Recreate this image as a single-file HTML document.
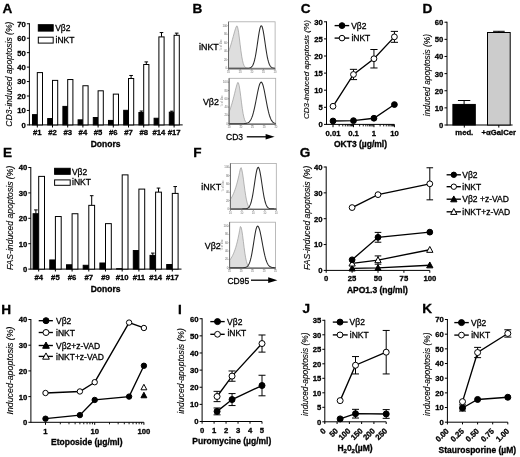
<!DOCTYPE html>
<html><head><meta charset="utf-8"><style>
html,body{margin:0;padding:0;background:#fff;overflow:hidden;}
svg{display:block;will-change:transform;font-family:"Liberation Sans", sans-serif;}
text{stroke:#000;stroke-width:0.3px;paint-order:stroke;}
</style></head><body>
<svg width="520" height="457" viewBox="0 0 520 457">
<rect x="0" y="0" width="520" height="457" fill="#fff"/>
<text x="2.40" y="13.10" font-size="13.6" font-weight="bold">A</text>
<line x1="29.40" y1="23.25" x2="29.40" y2="125.40" stroke="#000" stroke-width="1.0"/>
<line x1="26.90" y1="124.90" x2="29.40" y2="124.90" stroke="#000" stroke-width="1.0"/>
<text x="25.80" y="127.80" font-size="7.7" font-weight="bold" text-anchor="end">0</text>
<line x1="26.90" y1="110.45" x2="29.40" y2="110.45" stroke="#000" stroke-width="1.0"/>
<text x="25.80" y="113.35" font-size="7.7" font-weight="bold" text-anchor="end">10</text>
<line x1="26.90" y1="96.00" x2="29.40" y2="96.00" stroke="#000" stroke-width="1.0"/>
<text x="25.80" y="98.90" font-size="7.7" font-weight="bold" text-anchor="end">20</text>
<line x1="26.90" y1="81.55" x2="29.40" y2="81.55" stroke="#000" stroke-width="1.0"/>
<text x="25.80" y="84.45" font-size="7.7" font-weight="bold" text-anchor="end">30</text>
<line x1="26.90" y1="67.10" x2="29.40" y2="67.10" stroke="#000" stroke-width="1.0"/>
<text x="25.80" y="70.00" font-size="7.7" font-weight="bold" text-anchor="end">40</text>
<line x1="26.90" y1="52.65" x2="29.40" y2="52.65" stroke="#000" stroke-width="1.0"/>
<text x="25.80" y="55.55" font-size="7.7" font-weight="bold" text-anchor="end">50</text>
<line x1="26.90" y1="38.20" x2="29.40" y2="38.20" stroke="#000" stroke-width="1.0"/>
<text x="25.80" y="41.10" font-size="7.7" font-weight="bold" text-anchor="end">60</text>
<line x1="26.90" y1="23.75" x2="29.40" y2="23.75" stroke="#000" stroke-width="1.0"/>
<text x="25.80" y="26.65" font-size="7.7" font-weight="bold" text-anchor="end">70</text>
<line x1="29.40" y1="124.90" x2="182.70" y2="124.90" stroke="#000" stroke-width="1.0"/>
<rect x="32.50" y="114.64" width="4.80" height="10.26" fill="#000" stroke="#000" stroke-width="1.0"/>
<rect x="37.30" y="72.59" width="5.20" height="52.31" fill="#fff" stroke="#000" stroke-width="1.0"/>
<line x1="37.30" y1="124.90" x2="37.30" y2="127.50" stroke="#000" stroke-width="1.0"/>
<text x="37.30" y="134.90" font-size="7.7" font-weight="bold" text-anchor="middle">#1</text>
<rect x="47.70" y="118.54" width="4.80" height="6.36" fill="#000" stroke="#000" stroke-width="1.0"/>
<rect x="52.50" y="80.39" width="5.20" height="44.51" fill="#fff" stroke="#000" stroke-width="1.0"/>
<line x1="52.50" y1="124.90" x2="52.50" y2="127.50" stroke="#000" stroke-width="1.0"/>
<text x="52.50" y="134.90" font-size="7.7" font-weight="bold" text-anchor="middle">#2</text>
<rect x="62.90" y="106.40" width="4.80" height="18.50" fill="#000" stroke="#000" stroke-width="1.0"/>
<rect x="67.70" y="79.53" width="5.20" height="45.37" fill="#fff" stroke="#000" stroke-width="1.0"/>
<line x1="67.70" y1="124.90" x2="67.70" y2="127.50" stroke="#000" stroke-width="1.0"/>
<text x="67.70" y="134.90" font-size="7.7" font-weight="bold" text-anchor="middle">#3</text>
<rect x="78.10" y="119.84" width="4.80" height="5.06" fill="#000" stroke="#000" stroke-width="1.0"/>
<rect x="82.90" y="85.74" width="5.20" height="39.16" fill="#fff" stroke="#000" stroke-width="1.0"/>
<line x1="82.90" y1="124.90" x2="82.90" y2="127.50" stroke="#000" stroke-width="1.0"/>
<text x="82.90" y="134.90" font-size="7.7" font-weight="bold" text-anchor="middle">#4</text>
<rect x="93.30" y="117.53" width="4.80" height="7.37" fill="#000" stroke="#000" stroke-width="1.0"/>
<rect x="98.10" y="90.80" width="5.20" height="34.10" fill="#fff" stroke="#000" stroke-width="1.0"/>
<line x1="98.10" y1="124.90" x2="98.10" y2="127.50" stroke="#000" stroke-width="1.0"/>
<text x="98.10" y="134.90" font-size="7.7" font-weight="bold" text-anchor="middle">#5</text>
<rect x="108.50" y="120.42" width="4.80" height="4.48" fill="#000" stroke="#000" stroke-width="1.0"/>
<rect x="113.30" y="94.12" width="5.20" height="30.78" fill="#fff" stroke="#000" stroke-width="1.0"/>
<line x1="113.30" y1="124.90" x2="113.30" y2="127.50" stroke="#000" stroke-width="1.0"/>
<text x="113.30" y="134.90" font-size="7.7" font-weight="bold" text-anchor="middle">#6</text>
<rect x="123.70" y="110.31" width="4.80" height="14.59" fill="#000" stroke="#000" stroke-width="1.0"/>
<line x1="131.10" y1="75.48" x2="131.10" y2="78.52" stroke="#000" stroke-width="1.0"/>
<line x1="129.30" y1="75.48" x2="132.90" y2="75.48" stroke="#000" stroke-width="1.0"/>
<rect x="128.50" y="78.52" width="5.20" height="46.38" fill="#fff" stroke="#000" stroke-width="1.0"/>
<line x1="128.50" y1="124.90" x2="128.50" y2="127.50" stroke="#000" stroke-width="1.0"/>
<text x="128.50" y="134.90" font-size="7.7" font-weight="bold" text-anchor="middle">#7</text>
<line x1="141.30" y1="111.03" x2="141.30" y2="112.47" stroke="#000" stroke-width="1.0"/>
<line x1="139.70" y1="111.03" x2="142.90" y2="111.03" stroke="#000" stroke-width="1.0"/>
<rect x="138.90" y="112.47" width="4.80" height="12.43" fill="#000" stroke="#000" stroke-width="1.0"/>
<line x1="146.30" y1="61.90" x2="146.30" y2="64.50" stroke="#000" stroke-width="1.0"/>
<line x1="144.50" y1="61.90" x2="148.10" y2="61.90" stroke="#000" stroke-width="1.0"/>
<rect x="143.70" y="64.50" width="5.20" height="60.40" fill="#fff" stroke="#000" stroke-width="1.0"/>
<line x1="143.70" y1="124.90" x2="143.70" y2="127.50" stroke="#000" stroke-width="1.0"/>
<text x="143.70" y="134.90" font-size="7.7" font-weight="bold" text-anchor="middle">#8</text>
<rect x="154.10" y="118.25" width="4.80" height="6.65" fill="#000" stroke="#000" stroke-width="1.0"/>
<line x1="161.50" y1="32.56" x2="161.50" y2="36.90" stroke="#000" stroke-width="1.0"/>
<line x1="159.70" y1="32.56" x2="163.30" y2="32.56" stroke="#000" stroke-width="1.0"/>
<rect x="158.90" y="36.90" width="5.20" height="88.00" fill="#fff" stroke="#000" stroke-width="1.0"/>
<line x1="158.90" y1="124.90" x2="158.90" y2="127.50" stroke="#000" stroke-width="1.0"/>
<text x="158.90" y="134.90" font-size="7.7" font-weight="bold" text-anchor="middle">#14</text>
<line x1="171.70" y1="111.17" x2="171.70" y2="112.18" stroke="#000" stroke-width="1.0"/>
<line x1="170.10" y1="111.17" x2="173.30" y2="111.17" stroke="#000" stroke-width="1.0"/>
<rect x="169.30" y="112.18" width="4.80" height="12.72" fill="#000" stroke="#000" stroke-width="1.0"/>
<line x1="176.70" y1="33.14" x2="176.70" y2="35.31" stroke="#000" stroke-width="1.0"/>
<line x1="174.90" y1="33.14" x2="178.50" y2="33.14" stroke="#000" stroke-width="1.0"/>
<rect x="174.10" y="35.31" width="5.20" height="89.59" fill="#fff" stroke="#000" stroke-width="1.0"/>
<line x1="174.10" y1="124.90" x2="174.10" y2="127.50" stroke="#000" stroke-width="1.0"/>
<text x="174.10" y="134.90" font-size="7.7" font-weight="bold" text-anchor="middle">#17</text>
<text x="105.60" y="147.20" font-size="8.5" font-weight="bold" text-anchor="middle">Donors</text>
<rect x="38.30" y="24.70" width="14.90" height="6.40" fill="#000" stroke="#000" stroke-width="1.0"/>
<rect x="38.30" y="37.20" width="14.90" height="5.90" fill="#fff" stroke="#000" stroke-width="1.0"/>
<text x="55.20" y="31.10" font-size="8.5">V&#946;2</text>
<text x="55.50" y="43.10" font-size="8.5">iNKT</text>
<text x="12.40" y="74.10" font-size="8.6" font-style="italic" text-anchor="middle" transform="rotate(-90 12.40 74.10)" style="stroke-width:0.12px">CD3-induced apoptosis (%)</text>
<text x="192.40" y="13.40" font-size="13.6" font-weight="bold">B</text>
<rect x="228.5" y="21.8" width="46.60" height="47.10" fill="#fff" stroke="#aaa" stroke-width="0.8"/>
<path d="M228.50,68.30 L228.50,51.85 L229.28,49.71 L230.05,47.40 L230.83,44.92 L231.61,42.29 L232.38,39.56 L233.16,36.74 L233.94,33.92 L234.71,31.18 L235.49,28.65 L236.27,26.56 L237.04,25.83 L237.82,27.94 L238.60,32.29 L239.37,38.12 L240.15,44.54 L240.93,50.74 L241.70,56.11 L242.48,60.35 L243.26,63.43 L244.03,65.50 L244.81,66.79 L245.59,67.53 L246.36,67.93 L247.14,68.14 L247.92,68.23 L248.69,68.27 L249.47,68.29 L250.25,68.30 L251.02,68.30 L251.80,68.30 L252.58,68.30 L253.35,68.30 L254.13,68.30 L254.91,68.30 L255.68,68.30 L256.46,68.30 L257.24,68.30 L258.01,68.30 L258.79,68.30 L259.57,68.30 L260.34,68.30 L261.12,68.30 L261.90,68.30 L262.67,68.30 L263.45,68.30 L264.23,68.30 L265.00,68.30 L265.78,68.30 L266.56,68.30 L267.33,68.30 L268.11,68.30 L268.89,68.30 L269.66,68.30 L270.44,68.30 L271.22,68.30 L271.99,68.30 L272.77,68.30 L273.55,68.30 L274.32,68.30 L275.10,68.30 L275.10,68.30 Z" fill="#dedede" stroke="#999" stroke-width="0.7"/>
<path d="M228.50,68.30 L229.02,68.30 L229.54,68.30 L230.05,68.30 L230.57,68.30 L231.09,68.30 L231.61,68.30 L232.12,68.30 L232.64,68.30 L233.16,68.30 L233.68,68.30 L234.20,68.30 L234.71,68.30 L235.23,68.30 L235.75,68.30 L236.27,68.30 L236.78,68.30 L237.30,68.30 L237.82,68.30 L238.34,68.30 L238.86,68.30 L239.37,68.30 L239.89,68.30 L240.41,68.30 L240.93,68.30 L241.44,68.30 L241.96,68.30 L242.48,68.30 L243.00,68.30 L243.52,68.30 L244.03,68.30 L244.55,68.30 L245.07,68.30 L245.59,68.29 L246.10,68.29 L246.62,68.28 L247.14,68.27 L247.66,68.25 L248.18,68.22 L248.69,68.17 L249.21,68.10 L249.73,67.98 L250.25,67.81 L250.76,67.56 L251.28,67.21 L251.80,66.72 L252.32,66.06 L252.84,65.19 L253.35,64.06 L253.87,62.62 L254.39,60.86 L254.91,58.73 L255.42,56.23 L255.94,53.37 L256.46,50.19 L256.98,46.77 L257.50,43.19 L258.01,39.59 L258.53,36.10 L259.05,32.90 L259.57,30.13 L260.08,27.94 L260.60,26.45 L261.12,25.75 L261.64,25.88 L262.16,26.82 L262.67,28.54 L263.19,30.92 L263.71,33.84 L264.23,37.14 L264.74,40.68 L265.26,44.29 L265.78,47.83 L266.30,51.19 L266.82,54.28 L267.33,57.03 L267.85,59.41 L268.37,61.43 L268.89,63.09 L269.40,64.43 L269.92,65.48 L270.44,66.28 L270.96,66.89 L271.48,67.33 L271.99,67.65 L272.51,67.87 L273.03,68.02 L273.55,68.12 L274.06,68.19 L274.58,68.23 L275.10,68.26" fill="none" stroke="#2a2a2a" stroke-width="1.05"/>
<line x1="228.50" y1="21.80" x2="228.50" y2="68.90" stroke="#666" stroke-width="1.0"/>
<line x1="228.50" y1="68.90" x2="275.10" y2="68.90" stroke="#666" stroke-width="1.0"/>
<line x1="228.50" y1="68.90" x2="228.50" y2="70.50" stroke="#777" stroke-width="0.7"/>
<text x="228.50" y="72.90" font-size="2.8" text-anchor="middle" fill="#777" style="stroke:none">10</text>
<line x1="240.15" y1="68.90" x2="240.15" y2="70.50" stroke="#777" stroke-width="0.7"/>
<text x="240.15" y="72.90" font-size="2.8" text-anchor="middle" fill="#777" style="stroke:none">10</text>
<line x1="251.80" y1="68.90" x2="251.80" y2="70.50" stroke="#777" stroke-width="0.7"/>
<text x="251.80" y="72.90" font-size="2.8" text-anchor="middle" fill="#777" style="stroke:none">10</text>
<line x1="263.45" y1="68.90" x2="263.45" y2="70.50" stroke="#777" stroke-width="0.7"/>
<text x="263.45" y="72.90" font-size="2.8" text-anchor="middle" fill="#777" style="stroke:none">10</text>
<line x1="275.10" y1="68.90" x2="275.10" y2="70.50" stroke="#777" stroke-width="0.7"/>
<text x="275.10" y="72.90" font-size="2.8" text-anchor="middle" fill="#777" style="stroke:none">10</text>
<line x1="227.50" y1="68.30" x2="228.50" y2="68.30" stroke="#666" stroke-width="0.8"/>
<text x="227.10" y="69.30" font-size="2.8" text-anchor="end" fill="#666" style="stroke:none">0</text>
<line x1="227.50" y1="59.78" x2="228.50" y2="59.78" stroke="#666" stroke-width="0.8"/>
<text x="227.10" y="60.78" font-size="2.8" text-anchor="end" fill="#666" style="stroke:none">20</text>
<line x1="227.50" y1="51.26" x2="228.50" y2="51.26" stroke="#666" stroke-width="0.8"/>
<text x="227.10" y="52.26" font-size="2.8" text-anchor="end" fill="#666" style="stroke:none">40</text>
<line x1="227.50" y1="42.74" x2="228.50" y2="42.74" stroke="#666" stroke-width="0.8"/>
<text x="227.10" y="43.74" font-size="2.8" text-anchor="end" fill="#666" style="stroke:none">60</text>
<line x1="227.50" y1="34.22" x2="228.50" y2="34.22" stroke="#666" stroke-width="0.8"/>
<text x="227.10" y="35.22" font-size="2.8" text-anchor="end" fill="#666" style="stroke:none">80</text>
<line x1="227.50" y1="25.70" x2="228.50" y2="25.70" stroke="#666" stroke-width="0.8"/>
<text x="227.10" y="26.70" font-size="2.8" text-anchor="end" fill="#666" style="stroke:none">100</text>
<text x="222.10" y="44.85" font-size="2.6" text-anchor="middle" fill="#888" style="stroke:none" transform="rotate(-90 222.10 44.85)">% of Max</text>
<rect x="229.1" y="78.3" width="46.60" height="46.00" fill="#fff" stroke="#aaa" stroke-width="0.8"/>
<path d="M229.10,123.70 L229.10,111.82 L229.88,109.87 L230.65,107.70 L231.43,105.30 L232.21,102.67 L232.98,99.84 L233.76,96.84 L234.54,93.73 L235.31,90.57 L236.09,87.50 L236.87,84.71 L237.64,82.57 L238.42,82.78 L239.20,85.68 L239.97,90.52 L240.75,96.50 L241.53,102.77 L242.30,108.57 L243.08,113.43 L243.86,117.15 L244.63,119.78 L245.41,121.49 L246.19,122.53 L246.96,123.12 L247.74,123.43 L248.52,123.58 L249.29,123.65 L250.07,123.68 L250.85,123.69 L251.62,123.70 L252.40,123.70 L253.18,123.70 L253.95,123.70 L254.73,123.70 L255.51,123.70 L256.28,123.70 L257.06,123.70 L257.84,123.70 L258.61,123.70 L259.39,123.70 L260.17,123.70 L260.94,123.70 L261.72,123.70 L262.50,123.70 L263.27,123.70 L264.05,123.70 L264.83,123.70 L265.60,123.70 L266.38,123.70 L267.16,123.70 L267.93,123.70 L268.71,123.70 L269.49,123.70 L270.26,123.70 L271.04,123.70 L271.82,123.70 L272.59,123.70 L273.37,123.70 L274.15,123.70 L274.92,123.70 L275.70,123.70 L275.70,123.70 Z" fill="#dedede" stroke="#999" stroke-width="0.7"/>
<path d="M229.10,123.70 L229.62,123.70 L230.14,123.70 L230.65,123.70 L231.17,123.70 L231.69,123.70 L232.21,123.70 L232.72,123.70 L233.24,123.70 L233.76,123.70 L234.28,123.70 L234.80,123.70 L235.31,123.70 L235.83,123.70 L236.35,123.70 L236.87,123.70 L237.38,123.70 L237.90,123.70 L238.42,123.70 L238.94,123.70 L239.46,123.70 L239.97,123.70 L240.49,123.70 L241.01,123.69 L241.53,123.69 L242.04,123.69 L242.56,123.68 L243.08,123.67 L243.60,123.65 L244.12,123.63 L244.63,123.59 L245.15,123.54 L245.67,123.48 L246.19,123.39 L246.70,123.27 L247.22,123.10 L247.74,122.89 L248.26,122.61 L248.78,122.24 L249.29,121.79 L249.81,121.21 L250.33,120.51 L250.85,119.65 L251.36,118.61 L251.88,117.39 L252.40,115.97 L252.92,114.33 L253.44,112.48 L253.95,110.42 L254.47,108.16 L254.99,105.73 L255.51,103.16 L256.02,100.49 L256.54,97.78 L257.06,95.09 L257.58,92.48 L258.10,90.03 L258.61,87.81 L259.13,85.88 L259.65,84.31 L260.17,83.15 L260.68,82.44 L261.20,82.20 L261.72,82.46 L262.24,83.24 L262.76,84.51 L263.27,86.21 L263.79,88.29 L264.31,90.67 L264.83,93.29 L265.34,96.04 L265.86,98.87 L266.38,101.69 L266.90,104.43 L267.42,107.04 L267.93,109.48 L268.45,111.72 L268.97,113.73 L269.49,115.51 L270.00,117.05 L270.52,118.38 L271.04,119.49 L271.56,120.41 L272.08,121.16 L272.59,121.77 L273.11,122.25 L273.63,122.62 L274.15,122.91 L274.66,123.13 L275.18,123.29 L275.70,123.41" fill="none" stroke="#2a2a2a" stroke-width="1.05"/>
<line x1="229.10" y1="78.30" x2="229.10" y2="124.30" stroke="#666" stroke-width="1.0"/>
<line x1="229.10" y1="124.30" x2="275.70" y2="124.30" stroke="#666" stroke-width="1.0"/>
<line x1="229.10" y1="124.30" x2="229.10" y2="125.90" stroke="#777" stroke-width="0.7"/>
<text x="229.10" y="128.30" font-size="2.8" text-anchor="middle" fill="#777" style="stroke:none">10</text>
<line x1="240.75" y1="124.30" x2="240.75" y2="125.90" stroke="#777" stroke-width="0.7"/>
<text x="240.75" y="128.30" font-size="2.8" text-anchor="middle" fill="#777" style="stroke:none">10</text>
<line x1="252.40" y1="124.30" x2="252.40" y2="125.90" stroke="#777" stroke-width="0.7"/>
<text x="252.40" y="128.30" font-size="2.8" text-anchor="middle" fill="#777" style="stroke:none">10</text>
<line x1="264.05" y1="124.30" x2="264.05" y2="125.90" stroke="#777" stroke-width="0.7"/>
<text x="264.05" y="128.30" font-size="2.8" text-anchor="middle" fill="#777" style="stroke:none">10</text>
<line x1="275.70" y1="124.30" x2="275.70" y2="125.90" stroke="#777" stroke-width="0.7"/>
<text x="275.70" y="128.30" font-size="2.8" text-anchor="middle" fill="#777" style="stroke:none">10</text>
<line x1="228.10" y1="123.70" x2="229.10" y2="123.70" stroke="#666" stroke-width="0.8"/>
<text x="227.70" y="124.70" font-size="2.8" text-anchor="end" fill="#666" style="stroke:none">0</text>
<line x1="228.10" y1="115.40" x2="229.10" y2="115.40" stroke="#666" stroke-width="0.8"/>
<text x="227.70" y="116.40" font-size="2.8" text-anchor="end" fill="#666" style="stroke:none">20</text>
<line x1="228.10" y1="107.10" x2="229.10" y2="107.10" stroke="#666" stroke-width="0.8"/>
<text x="227.70" y="108.10" font-size="2.8" text-anchor="end" fill="#666" style="stroke:none">40</text>
<line x1="228.10" y1="98.80" x2="229.10" y2="98.80" stroke="#666" stroke-width="0.8"/>
<text x="227.70" y="99.80" font-size="2.8" text-anchor="end" fill="#666" style="stroke:none">60</text>
<line x1="228.10" y1="90.50" x2="229.10" y2="90.50" stroke="#666" stroke-width="0.8"/>
<text x="227.70" y="91.50" font-size="2.8" text-anchor="end" fill="#666" style="stroke:none">80</text>
<line x1="228.10" y1="82.20" x2="229.10" y2="82.20" stroke="#666" stroke-width="0.8"/>
<text x="227.70" y="83.20" font-size="2.8" text-anchor="end" fill="#666" style="stroke:none">100</text>
<text x="222.70" y="100.80" font-size="2.6" text-anchor="middle" fill="#888" style="stroke:none" transform="rotate(-90 222.70 100.80)">% of Max</text>
<text x="218.80" y="50.30" font-size="8.9" text-anchor="end">iNKT</text>
<text x="218.90" y="105.00" font-size="8.9" text-anchor="end">V&#946;2</text>
<text x="226.00" y="140.10" font-size="8.5">CD3</text>
<line x1="246.80" y1="136.80" x2="267.00" y2="136.80" stroke="#000" stroke-width="1.3"/>
<polygon points="265.6,134.1 274.6,136.8 265.6,139.5" fill="#000"/>
<text x="193.30" y="157.10" font-size="13.6" font-weight="bold">F</text>
<rect x="230.4" y="163.4" width="45.90" height="46.10" fill="#fff" stroke="#aaa" stroke-width="0.8"/>
<path d="M230.40,208.90 L230.40,199.46 L231.16,198.24 L231.93,196.89 L232.69,195.38 L233.46,193.69 L234.22,191.81 L234.99,189.73 L235.75,187.43 L236.52,184.89 L237.28,182.11 L238.05,179.08 L238.81,175.81 L239.58,172.34 L240.34,168.79 L241.11,167.62 L241.88,169.86 L242.64,173.90 L243.41,179.17 L244.17,184.97 L244.94,190.64 L245.70,195.70 L246.47,199.86 L247.23,203.03 L248.00,205.29 L248.76,206.79 L249.53,207.74 L250.29,208.29 L251.06,208.60 L251.82,208.76 L252.59,208.84 L253.35,208.87 L254.12,208.89 L254.88,208.90 L255.65,208.90 L256.41,208.90 L257.18,208.90 L257.94,208.90 L258.70,208.90 L259.47,208.90 L260.24,208.90 L261.00,208.90 L261.76,208.90 L262.53,208.90 L263.30,208.90 L264.06,208.90 L264.82,208.90 L265.59,208.90 L266.36,208.90 L267.12,208.90 L267.88,208.90 L268.65,208.90 L269.42,208.90 L270.18,208.90 L270.94,208.90 L271.71,208.90 L272.48,208.90 L273.24,208.90 L274.00,208.90 L274.77,208.90 L275.54,208.90 L276.30,208.90 L276.30,208.90 Z" fill="#dedede" stroke="#999" stroke-width="0.7"/>
<path d="M230.40,208.90 L230.91,208.90 L231.42,208.90 L231.93,208.90 L232.44,208.90 L232.95,208.90 L233.46,208.90 L233.97,208.90 L234.48,208.90 L234.99,208.90 L235.50,208.90 L236.01,208.90 L236.52,208.90 L237.03,208.90 L237.54,208.90 L238.05,208.90 L238.56,208.90 L239.07,208.90 L239.58,208.90 L240.09,208.90 L240.60,208.90 L241.11,208.90 L241.62,208.90 L242.13,208.90 L242.64,208.89 L243.15,208.89 L243.66,208.88 L244.17,208.87 L244.68,208.85 L245.19,208.81 L245.70,208.76 L246.21,208.68 L246.72,208.56 L247.23,208.39 L247.74,208.14 L248.25,207.78 L248.76,207.29 L249.27,206.64 L249.78,205.78 L250.29,204.67 L250.80,203.27 L251.31,201.55 L251.82,199.49 L252.33,197.08 L252.84,194.33 L253.35,191.28 L253.86,187.99 L254.37,184.55 L254.88,181.09 L255.39,177.72 L255.90,174.61 L256.41,171.89 L256.92,169.72 L257.43,168.19 L257.94,167.40 L258.45,167.39 L258.96,168.17 L259.47,169.68 L259.98,171.85 L260.49,174.55 L261.00,177.66 L261.51,181.02 L262.02,184.49 L262.53,187.92 L263.04,191.22 L263.55,194.28 L264.06,197.03 L264.57,199.45 L265.08,201.52 L265.59,203.24 L266.10,204.64 L266.61,205.76 L267.12,206.62 L267.63,207.28 L268.14,207.77 L268.65,208.13 L269.16,208.38 L269.67,208.56 L270.18,208.68 L270.69,208.76 L271.20,208.81 L271.71,208.85 L272.22,208.87 L272.73,208.88 L273.24,208.89 L273.75,208.89 L274.26,208.90 L274.77,208.90 L275.28,208.90 L275.79,208.90 L276.30,208.90" fill="none" stroke="#2a2a2a" stroke-width="1.05"/>
<line x1="230.40" y1="163.40" x2="230.40" y2="209.50" stroke="#666" stroke-width="1.0"/>
<line x1="230.40" y1="209.50" x2="276.30" y2="209.50" stroke="#666" stroke-width="1.0"/>
<line x1="230.40" y1="209.50" x2="230.40" y2="211.10" stroke="#777" stroke-width="0.7"/>
<text x="230.40" y="213.50" font-size="2.8" text-anchor="middle" fill="#777" style="stroke:none">10</text>
<line x1="241.88" y1="209.50" x2="241.88" y2="211.10" stroke="#777" stroke-width="0.7"/>
<text x="241.88" y="213.50" font-size="2.8" text-anchor="middle" fill="#777" style="stroke:none">10</text>
<line x1="253.35" y1="209.50" x2="253.35" y2="211.10" stroke="#777" stroke-width="0.7"/>
<text x="253.35" y="213.50" font-size="2.8" text-anchor="middle" fill="#777" style="stroke:none">10</text>
<line x1="264.82" y1="209.50" x2="264.82" y2="211.10" stroke="#777" stroke-width="0.7"/>
<text x="264.82" y="213.50" font-size="2.8" text-anchor="middle" fill="#777" style="stroke:none">10</text>
<line x1="276.30" y1="209.50" x2="276.30" y2="211.10" stroke="#777" stroke-width="0.7"/>
<text x="276.30" y="213.50" font-size="2.8" text-anchor="middle" fill="#777" style="stroke:none">10</text>
<line x1="229.40" y1="208.90" x2="230.40" y2="208.90" stroke="#666" stroke-width="0.8"/>
<text x="229.00" y="209.90" font-size="2.8" text-anchor="end" fill="#666" style="stroke:none">0</text>
<line x1="229.40" y1="200.58" x2="230.40" y2="200.58" stroke="#666" stroke-width="0.8"/>
<text x="229.00" y="201.58" font-size="2.8" text-anchor="end" fill="#666" style="stroke:none">20</text>
<line x1="229.40" y1="192.26" x2="230.40" y2="192.26" stroke="#666" stroke-width="0.8"/>
<text x="229.00" y="193.26" font-size="2.8" text-anchor="end" fill="#666" style="stroke:none">40</text>
<line x1="229.40" y1="183.94" x2="230.40" y2="183.94" stroke="#666" stroke-width="0.8"/>
<text x="229.00" y="184.94" font-size="2.8" text-anchor="end" fill="#666" style="stroke:none">60</text>
<line x1="229.40" y1="175.62" x2="230.40" y2="175.62" stroke="#666" stroke-width="0.8"/>
<text x="229.00" y="176.62" font-size="2.8" text-anchor="end" fill="#666" style="stroke:none">80</text>
<line x1="229.40" y1="167.30" x2="230.40" y2="167.30" stroke="#666" stroke-width="0.8"/>
<text x="229.00" y="168.30" font-size="2.8" text-anchor="end" fill="#666" style="stroke:none">100</text>
<text x="224.00" y="185.95" font-size="2.6" text-anchor="middle" fill="#888" style="stroke:none" transform="rotate(-90 224.00 185.95)">% of Max</text>
<rect x="229.6" y="222.2" width="45.90" height="46.10" fill="#fff" stroke="#aaa" stroke-width="0.8"/>
<path d="M229.60,267.70 L229.60,260.34 L230.36,259.33 L231.13,258.19 L231.89,256.89 L232.66,255.43 L233.42,253.78 L234.19,251.91 L234.95,249.81 L235.72,247.45 L236.48,244.80 L237.25,241.83 L238.01,238.52 L238.78,234.86 L239.54,230.83 L240.31,226.57 L241.07,227.07 L241.84,230.35 L242.60,235.40 L243.37,241.41 L244.13,247.57 L244.90,253.19 L245.66,257.87 L246.43,261.43 L247.19,263.93 L247.96,265.57 L248.72,266.57 L249.49,267.14 L250.25,267.43 L251.02,267.58 L251.78,267.65 L252.55,267.68 L253.31,267.69 L254.08,267.70 L254.84,267.70 L255.61,267.70 L256.38,267.70 L257.14,267.70 L257.90,267.70 L258.67,267.70 L259.44,267.70 L260.20,267.70 L260.96,267.70 L261.73,267.70 L262.50,267.70 L263.26,267.70 L264.02,267.70 L264.79,267.70 L265.56,267.70 L266.32,267.70 L267.08,267.70 L267.85,267.70 L268.62,267.70 L269.38,267.70 L270.14,267.70 L270.91,267.70 L271.68,267.70 L272.44,267.70 L273.20,267.70 L273.97,267.70 L274.74,267.70 L275.50,267.70 L275.50,267.70 Z" fill="#dedede" stroke="#999" stroke-width="0.7"/>
<path d="M229.60,267.70 L230.11,267.70 L230.62,267.70 L231.13,267.70 L231.64,267.70 L232.15,267.70 L232.66,267.70 L233.17,267.70 L233.68,267.70 L234.19,267.70 L234.70,267.70 L235.21,267.70 L235.72,267.70 L236.23,267.70 L236.74,267.70 L237.25,267.70 L237.76,267.70 L238.27,267.70 L238.78,267.70 L239.29,267.70 L239.80,267.70 L240.31,267.70 L240.82,267.70 L241.33,267.69 L241.84,267.69 L242.35,267.68 L242.86,267.67 L243.37,267.65 L243.88,267.61 L244.39,267.57 L244.90,267.49 L245.41,267.39 L245.92,267.23 L246.43,267.01 L246.94,266.71 L247.45,266.29 L247.96,265.74 L248.47,265.01 L248.98,264.08 L249.49,262.91 L250.00,261.47 L250.51,259.73 L251.02,257.68 L251.53,255.31 L252.04,252.64 L252.55,249.71 L253.06,246.57 L253.57,243.31 L254.08,240.02 L254.59,236.82 L255.10,233.83 L255.61,231.18 L256.12,228.99 L256.63,227.37 L257.14,226.39 L257.65,226.10 L258.16,226.41 L258.67,227.21 L259.18,228.48 L259.69,230.18 L260.20,232.24 L260.71,234.60 L261.22,237.18 L261.73,239.90 L262.24,242.69 L262.75,245.47 L263.26,248.19 L263.77,250.78 L264.28,253.21 L264.79,255.44 L265.30,257.45 L265.81,259.24 L266.32,260.80 L266.83,262.14 L267.34,263.28 L267.85,264.23 L268.36,265.00 L268.87,265.63 L269.38,266.13 L269.89,266.53 L270.40,266.83 L270.91,267.07 L271.42,267.24 L271.93,267.38 L272.44,267.47 L272.95,267.54 L273.46,267.59 L273.97,267.63 L274.48,267.65 L274.99,267.67 L275.50,267.68" fill="none" stroke="#2a2a2a" stroke-width="1.05"/>
<line x1="229.60" y1="222.20" x2="229.60" y2="268.30" stroke="#666" stroke-width="1.0"/>
<line x1="229.60" y1="268.30" x2="275.50" y2="268.30" stroke="#666" stroke-width="1.0"/>
<line x1="229.60" y1="268.30" x2="229.60" y2="269.90" stroke="#777" stroke-width="0.7"/>
<text x="229.60" y="272.30" font-size="2.8" text-anchor="middle" fill="#777" style="stroke:none">10</text>
<line x1="241.07" y1="268.30" x2="241.07" y2="269.90" stroke="#777" stroke-width="0.7"/>
<text x="241.07" y="272.30" font-size="2.8" text-anchor="middle" fill="#777" style="stroke:none">10</text>
<line x1="252.55" y1="268.30" x2="252.55" y2="269.90" stroke="#777" stroke-width="0.7"/>
<text x="252.55" y="272.30" font-size="2.8" text-anchor="middle" fill="#777" style="stroke:none">10</text>
<line x1="264.02" y1="268.30" x2="264.02" y2="269.90" stroke="#777" stroke-width="0.7"/>
<text x="264.02" y="272.30" font-size="2.8" text-anchor="middle" fill="#777" style="stroke:none">10</text>
<line x1="275.50" y1="268.30" x2="275.50" y2="269.90" stroke="#777" stroke-width="0.7"/>
<text x="275.50" y="272.30" font-size="2.8" text-anchor="middle" fill="#777" style="stroke:none">10</text>
<line x1="228.60" y1="267.70" x2="229.60" y2="267.70" stroke="#666" stroke-width="0.8"/>
<text x="228.20" y="268.70" font-size="2.8" text-anchor="end" fill="#666" style="stroke:none">0</text>
<line x1="228.60" y1="259.38" x2="229.60" y2="259.38" stroke="#666" stroke-width="0.8"/>
<text x="228.20" y="260.38" font-size="2.8" text-anchor="end" fill="#666" style="stroke:none">20</text>
<line x1="228.60" y1="251.06" x2="229.60" y2="251.06" stroke="#666" stroke-width="0.8"/>
<text x="228.20" y="252.06" font-size="2.8" text-anchor="end" fill="#666" style="stroke:none">40</text>
<line x1="228.60" y1="242.74" x2="229.60" y2="242.74" stroke="#666" stroke-width="0.8"/>
<text x="228.20" y="243.74" font-size="2.8" text-anchor="end" fill="#666" style="stroke:none">60</text>
<line x1="228.60" y1="234.42" x2="229.60" y2="234.42" stroke="#666" stroke-width="0.8"/>
<text x="228.20" y="235.42" font-size="2.8" text-anchor="end" fill="#666" style="stroke:none">80</text>
<line x1="228.60" y1="226.10" x2="229.60" y2="226.10" stroke="#666" stroke-width="0.8"/>
<text x="228.20" y="227.10" font-size="2.8" text-anchor="end" fill="#666" style="stroke:none">100</text>
<text x="223.20" y="244.75" font-size="2.6" text-anchor="middle" fill="#888" style="stroke:none" transform="rotate(-90 223.20 244.75)">% of Max</text>
<text x="221.10" y="189.80" font-size="8.9" text-anchor="end">iNKT</text>
<text x="220.80" y="249.30" font-size="8.9" text-anchor="end">V&#946;2</text>
<text x="227.40" y="283.60" font-size="8.5">CD95</text>
<line x1="251.00" y1="280.20" x2="269.50" y2="280.20" stroke="#000" stroke-width="1.3"/>
<polygon points="268.2,277.3 277.4,280.2 268.2,283.1" fill="#000"/>
<text x="300.80" y="13.20" font-size="13.6" font-weight="bold">C</text>
<line x1="326.50" y1="21.30" x2="326.50" y2="124.90" stroke="#000" stroke-width="1.0"/>
<line x1="324.00" y1="124.40" x2="326.50" y2="124.40" stroke="#000" stroke-width="1.0"/>
<text x="322.90" y="127.30" font-size="7.7" font-weight="bold" text-anchor="end">0</text>
<line x1="324.00" y1="107.30" x2="326.50" y2="107.30" stroke="#000" stroke-width="1.0"/>
<text x="322.90" y="110.20" font-size="7.7" font-weight="bold" text-anchor="end">5</text>
<line x1="324.00" y1="90.20" x2="326.50" y2="90.20" stroke="#000" stroke-width="1.0"/>
<text x="322.90" y="93.10" font-size="7.7" font-weight="bold" text-anchor="end">10</text>
<line x1="324.00" y1="73.10" x2="326.50" y2="73.10" stroke="#000" stroke-width="1.0"/>
<text x="322.90" y="76.00" font-size="7.7" font-weight="bold" text-anchor="end">15</text>
<line x1="324.00" y1="56.00" x2="326.50" y2="56.00" stroke="#000" stroke-width="1.0"/>
<text x="322.90" y="58.90" font-size="7.7" font-weight="bold" text-anchor="end">20</text>
<line x1="324.00" y1="38.90" x2="326.50" y2="38.90" stroke="#000" stroke-width="1.0"/>
<text x="322.90" y="41.80" font-size="7.7" font-weight="bold" text-anchor="end">25</text>
<line x1="324.00" y1="21.80" x2="326.50" y2="21.80" stroke="#000" stroke-width="1.0"/>
<text x="322.90" y="24.70" font-size="7.7" font-weight="bold" text-anchor="end">30</text>
<line x1="326.50" y1="124.40" x2="394.41" y2="124.40" stroke="#000" stroke-width="1.0"/>
<line x1="339.16" y1="124.40" x2="339.16" y2="126.40" stroke="#000" stroke-width="0.9"/>
<line x1="342.77" y1="124.40" x2="342.77" y2="126.40" stroke="#000" stroke-width="0.9"/>
<line x1="345.32" y1="124.40" x2="345.32" y2="126.40" stroke="#000" stroke-width="0.9"/>
<line x1="347.31" y1="124.40" x2="347.31" y2="126.40" stroke="#000" stroke-width="0.9"/>
<line x1="348.93" y1="124.40" x2="348.93" y2="126.40" stroke="#000" stroke-width="0.9"/>
<line x1="350.30" y1="124.40" x2="350.30" y2="126.40" stroke="#000" stroke-width="0.9"/>
<line x1="351.49" y1="124.40" x2="351.49" y2="126.40" stroke="#000" stroke-width="0.9"/>
<line x1="352.53" y1="124.40" x2="352.53" y2="126.40" stroke="#000" stroke-width="0.9"/>
<line x1="359.63" y1="124.40" x2="359.63" y2="126.40" stroke="#000" stroke-width="0.9"/>
<line x1="363.24" y1="124.40" x2="363.24" y2="126.40" stroke="#000" stroke-width="0.9"/>
<line x1="365.79" y1="124.40" x2="365.79" y2="126.40" stroke="#000" stroke-width="0.9"/>
<line x1="367.78" y1="124.40" x2="367.78" y2="126.40" stroke="#000" stroke-width="0.9"/>
<line x1="369.40" y1="124.40" x2="369.40" y2="126.40" stroke="#000" stroke-width="0.9"/>
<line x1="370.77" y1="124.40" x2="370.77" y2="126.40" stroke="#000" stroke-width="0.9"/>
<line x1="371.96" y1="124.40" x2="371.96" y2="126.40" stroke="#000" stroke-width="0.9"/>
<line x1="373.00" y1="124.40" x2="373.00" y2="126.40" stroke="#000" stroke-width="0.9"/>
<line x1="380.10" y1="124.40" x2="380.10" y2="126.40" stroke="#000" stroke-width="0.9"/>
<line x1="383.71" y1="124.40" x2="383.71" y2="126.40" stroke="#000" stroke-width="0.9"/>
<line x1="386.26" y1="124.40" x2="386.26" y2="126.40" stroke="#000" stroke-width="0.9"/>
<line x1="388.25" y1="124.40" x2="388.25" y2="126.40" stroke="#000" stroke-width="0.9"/>
<line x1="389.87" y1="124.40" x2="389.87" y2="126.40" stroke="#000" stroke-width="0.9"/>
<line x1="391.24" y1="124.40" x2="391.24" y2="126.40" stroke="#000" stroke-width="0.9"/>
<line x1="392.43" y1="124.40" x2="392.43" y2="126.40" stroke="#000" stroke-width="0.9"/>
<line x1="393.47" y1="124.40" x2="393.47" y2="126.40" stroke="#000" stroke-width="0.9"/>
<line x1="333.00" y1="124.40" x2="333.00" y2="127.20" stroke="#000" stroke-width="1.0"/>
<text x="333.00" y="135.60" font-size="7.7" font-weight="bold" text-anchor="middle">0.01</text>
<line x1="353.47" y1="124.40" x2="353.47" y2="127.20" stroke="#000" stroke-width="1.0"/>
<text x="353.47" y="135.60" font-size="7.7" font-weight="bold" text-anchor="middle">0.1</text>
<line x1="373.94" y1="124.40" x2="373.94" y2="127.20" stroke="#000" stroke-width="1.0"/>
<text x="373.94" y="135.60" font-size="7.7" font-weight="bold" text-anchor="middle">1</text>
<line x1="394.41" y1="124.40" x2="394.41" y2="127.20" stroke="#000" stroke-width="1.0"/>
<text x="394.41" y="135.60" font-size="7.7" font-weight="bold" text-anchor="middle">10</text>
<text x="360.50" y="147.00" font-size="8.5" font-weight="bold" text-anchor="middle">OKT3 (&#181;g/ml)</text>
<text x="308.70" y="69.60" font-size="8.1" font-style="italic" text-anchor="middle" transform="rotate(-90 308.70 69.60)" style="stroke-width:0.12px">CD3-induced apoptosis (%)</text>
<polyline points="333.00,120.98 353.47,120.64 373.94,118.24 394.41,104.56" fill="none" stroke="#000" stroke-width="1.35"/>
<polyline points="333.00,106.27 353.47,74.47 373.94,58.74 394.41,36.85" fill="none" stroke="#000" stroke-width="1.35"/>
<line x1="353.47" y1="69.34" x2="353.47" y2="79.60" stroke="#000" stroke-width="1.0"/>
<line x1="349.87" y1="69.34" x2="357.07" y2="69.34" stroke="#000" stroke-width="1.0"/>
<line x1="349.87" y1="79.60" x2="357.07" y2="79.60" stroke="#000" stroke-width="1.0"/>
<line x1="373.94" y1="49.50" x2="373.94" y2="67.97" stroke="#000" stroke-width="1.0"/>
<line x1="370.34" y1="49.50" x2="377.54" y2="49.50" stroke="#000" stroke-width="1.0"/>
<line x1="370.34" y1="67.97" x2="377.54" y2="67.97" stroke="#000" stroke-width="1.0"/>
<line x1="394.41" y1="31.38" x2="394.41" y2="42.32" stroke="#000" stroke-width="1.0"/>
<line x1="390.81" y1="31.38" x2="398.01" y2="31.38" stroke="#000" stroke-width="1.0"/>
<line x1="390.81" y1="42.32" x2="398.01" y2="42.32" stroke="#000" stroke-width="1.0"/>
<circle cx="333.00" cy="120.98" r="2.9" fill="#000" stroke="#000" stroke-width="1.0"/>
<circle cx="353.47" cy="120.64" r="2.9" fill="#000" stroke="#000" stroke-width="1.0"/>
<circle cx="373.94" cy="118.24" r="2.9" fill="#000" stroke="#000" stroke-width="1.0"/>
<circle cx="394.41" cy="104.56" r="2.9" fill="#000" stroke="#000" stroke-width="1.0"/>
<circle cx="333.00" cy="106.27" r="2.9" fill="#fff" stroke="#000" stroke-width="1.0"/>
<circle cx="353.47" cy="74.47" r="2.9" fill="#fff" stroke="#000" stroke-width="1.0"/>
<circle cx="373.94" cy="58.74" r="2.9" fill="#fff" stroke="#000" stroke-width="1.0"/>
<circle cx="394.41" cy="36.85" r="2.9" fill="#fff" stroke="#000" stroke-width="1.0"/>
<line x1="334.60" y1="25.60" x2="349.20" y2="25.60" stroke="#000" stroke-width="1.35"/>
<circle cx="342.00" cy="25.60" r="2.9" fill="#000" stroke="#000" stroke-width="1.0"/>
<line x1="334.60" y1="38.10" x2="349.20" y2="38.10" stroke="#000" stroke-width="1.35"/>
<circle cx="342.00" cy="38.10" r="2.8" fill="#fff" stroke="#000" stroke-width="1.0"/>
<text x="351.20" y="28.80" font-size="8.5">V&#946;2</text>
<text x="351.40" y="41.30" font-size="8.5">iNKT</text>
<text x="422.50" y="13.40" font-size="13.6" font-weight="bold">D</text>
<line x1="447.00" y1="21.72" x2="447.00" y2="125.50" stroke="#000" stroke-width="1.0"/>
<line x1="444.50" y1="125.00" x2="447.00" y2="125.00" stroke="#000" stroke-width="1.0"/>
<text x="443.40" y="127.90" font-size="7.7" font-weight="bold" text-anchor="end">0</text>
<line x1="444.50" y1="107.87" x2="447.00" y2="107.87" stroke="#000" stroke-width="1.0"/>
<text x="443.40" y="110.77" font-size="7.7" font-weight="bold" text-anchor="end">10</text>
<line x1="444.50" y1="90.74" x2="447.00" y2="90.74" stroke="#000" stroke-width="1.0"/>
<text x="443.40" y="93.64" font-size="7.7" font-weight="bold" text-anchor="end">20</text>
<line x1="444.50" y1="73.61" x2="447.00" y2="73.61" stroke="#000" stroke-width="1.0"/>
<text x="443.40" y="76.51" font-size="7.7" font-weight="bold" text-anchor="end">30</text>
<line x1="444.50" y1="56.48" x2="447.00" y2="56.48" stroke="#000" stroke-width="1.0"/>
<text x="443.40" y="59.38" font-size="7.7" font-weight="bold" text-anchor="end">40</text>
<line x1="444.50" y1="39.35" x2="447.00" y2="39.35" stroke="#000" stroke-width="1.0"/>
<text x="443.40" y="42.25" font-size="7.7" font-weight="bold" text-anchor="end">50</text>
<line x1="444.50" y1="22.22" x2="447.00" y2="22.22" stroke="#000" stroke-width="1.0"/>
<text x="443.40" y="25.12" font-size="7.7" font-weight="bold" text-anchor="end">60</text>
<line x1="447.00" y1="125.00" x2="512.60" y2="125.00" stroke="#000" stroke-width="1.0"/>
<line x1="464.30" y1="125.00" x2="464.30" y2="127.60" stroke="#000" stroke-width="1.0"/>
<line x1="498.80" y1="125.00" x2="498.80" y2="127.60" stroke="#000" stroke-width="1.0"/>
<line x1="464.10" y1="100.50" x2="464.10" y2="104.44" stroke="#000" stroke-width="1.0"/>
<line x1="457.90" y1="100.50" x2="470.30" y2="100.50" stroke="#000" stroke-width="1.0"/>
<rect x="452.90" y="104.44" width="22.40" height="20.56" fill="#000" stroke="#000" stroke-width="1.0"/>
<line x1="498.90" y1="31.30" x2="498.90" y2="32.50" stroke="#000" stroke-width="1.0"/>
<line x1="493.10" y1="31.30" x2="504.70" y2="31.30" stroke="#000" stroke-width="1.0"/>
<rect x="487.50" y="32.50" width="22.70" height="92.50" fill="#ccc" stroke="#000" stroke-width="1.0"/>
<text x="464.30" y="135.10" font-size="7.7" font-weight="bold" text-anchor="middle">med.</text>
<text x="498.80" y="135.10" font-size="7.7" font-weight="bold" text-anchor="middle">+&#945;GalCer</text>
<text x="429.80" y="75.10" font-size="8.3" font-style="italic" text-anchor="middle" transform="rotate(-90 429.80 75.10)" style="stroke-width:0.12px">induced apoptosis (%)</text>
<text x="2.90" y="157.20" font-size="13.6" font-weight="bold">E</text>
<line x1="30.80" y1="167.00" x2="30.80" y2="269.60" stroke="#000" stroke-width="1.0"/>
<line x1="28.30" y1="269.10" x2="30.80" y2="269.10" stroke="#000" stroke-width="1.0"/>
<text x="27.20" y="272.00" font-size="7.7" font-weight="bold" text-anchor="end">0</text>
<line x1="28.30" y1="243.70" x2="30.80" y2="243.70" stroke="#000" stroke-width="1.0"/>
<text x="27.20" y="246.60" font-size="7.7" font-weight="bold" text-anchor="end">10</text>
<line x1="28.30" y1="218.30" x2="30.80" y2="218.30" stroke="#000" stroke-width="1.0"/>
<text x="27.20" y="221.20" font-size="7.7" font-weight="bold" text-anchor="end">20</text>
<line x1="28.30" y1="192.90" x2="30.80" y2="192.90" stroke="#000" stroke-width="1.0"/>
<text x="27.20" y="195.80" font-size="7.7" font-weight="bold" text-anchor="end">30</text>
<line x1="28.30" y1="167.50" x2="30.80" y2="167.50" stroke="#000" stroke-width="1.0"/>
<text x="27.20" y="170.40" font-size="7.7" font-weight="bold" text-anchor="end">40</text>
<line x1="30.80" y1="269.10" x2="181.50" y2="269.10" stroke="#000" stroke-width="1.0"/>
<line x1="35.90" y1="209.92" x2="35.90" y2="213.73" stroke="#000" stroke-width="1.0"/>
<line x1="34.10" y1="209.92" x2="37.70" y2="209.92" stroke="#000" stroke-width="1.0"/>
<rect x="33.10" y="213.73" width="5.60" height="55.37" fill="#000" stroke="#000" stroke-width="1.0"/>
<rect x="38.70" y="176.39" width="5.80" height="92.71" fill="#fff" stroke="#000" stroke-width="1.0"/>
<line x1="38.70" y1="269.10" x2="38.70" y2="271.50" stroke="#000" stroke-width="1.0"/>
<text x="38.70" y="279.80" font-size="7.7" font-weight="bold" text-anchor="middle">#4</text>
<rect x="49.80" y="259.96" width="5.60" height="9.14" fill="#000" stroke="#000" stroke-width="1.0"/>
<rect x="55.40" y="216.52" width="5.80" height="52.58" fill="#fff" stroke="#000" stroke-width="1.0"/>
<line x1="55.40" y1="269.10" x2="55.40" y2="271.50" stroke="#000" stroke-width="1.0"/>
<text x="55.40" y="279.80" font-size="7.7" font-weight="bold" text-anchor="middle">#5</text>
<rect x="66.50" y="264.78" width="5.60" height="4.32" fill="#000" stroke="#000" stroke-width="1.0"/>
<rect x="72.10" y="213.73" width="5.80" height="55.37" fill="#fff" stroke="#000" stroke-width="1.0"/>
<line x1="72.10" y1="269.10" x2="72.10" y2="271.50" stroke="#000" stroke-width="1.0"/>
<text x="72.10" y="279.80" font-size="7.7" font-weight="bold" text-anchor="middle">#6</text>
<rect x="83.20" y="265.29" width="5.60" height="3.81" fill="#000" stroke="#000" stroke-width="1.0"/>
<line x1="91.70" y1="195.69" x2="91.70" y2="205.35" stroke="#000" stroke-width="1.0"/>
<line x1="89.90" y1="195.69" x2="93.50" y2="195.69" stroke="#000" stroke-width="1.0"/>
<rect x="88.80" y="205.35" width="5.80" height="63.75" fill="#fff" stroke="#000" stroke-width="1.0"/>
<line x1="88.80" y1="269.10" x2="88.80" y2="271.50" stroke="#000" stroke-width="1.0"/>
<text x="88.80" y="279.80" font-size="7.7" font-weight="bold" text-anchor="middle">#7</text>
<rect x="99.90" y="263.00" width="5.60" height="6.10" fill="#000" stroke="#000" stroke-width="1.0"/>
<rect x="105.50" y="223.63" width="5.80" height="45.47" fill="#fff" stroke="#000" stroke-width="1.0"/>
<line x1="105.50" y1="269.10" x2="105.50" y2="271.50" stroke="#000" stroke-width="1.0"/>
<text x="105.50" y="279.80" font-size="7.7" font-weight="bold" text-anchor="middle">#9</text>
<rect x="116.60" y="268.72" width="5.60" height="0.38" fill="#000" stroke="#000" stroke-width="1.0"/>
<rect x="122.20" y="174.87" width="5.80" height="94.23" fill="#fff" stroke="#000" stroke-width="1.0"/>
<line x1="122.20" y1="269.10" x2="122.20" y2="271.50" stroke="#000" stroke-width="1.0"/>
<text x="122.20" y="279.80" font-size="7.7" font-weight="bold" text-anchor="middle">#10</text>
<rect x="133.30" y="250.56" width="5.60" height="18.54" fill="#000" stroke="#000" stroke-width="1.0"/>
<rect x="138.90" y="189.09" width="5.80" height="80.01" fill="#fff" stroke="#000" stroke-width="1.0"/>
<line x1="138.90" y1="269.10" x2="138.90" y2="271.50" stroke="#000" stroke-width="1.0"/>
<text x="138.90" y="279.80" font-size="7.7" font-weight="bold" text-anchor="middle">#11</text>
<line x1="152.80" y1="253.10" x2="152.80" y2="255.38" stroke="#000" stroke-width="1.0"/>
<line x1="151.00" y1="253.10" x2="154.60" y2="253.10" stroke="#000" stroke-width="1.0"/>
<rect x="150.00" y="255.38" width="5.60" height="13.72" fill="#000" stroke="#000" stroke-width="1.0"/>
<line x1="158.50" y1="188.07" x2="158.50" y2="192.14" stroke="#000" stroke-width="1.0"/>
<line x1="156.70" y1="188.07" x2="160.30" y2="188.07" stroke="#000" stroke-width="1.0"/>
<rect x="155.60" y="192.14" width="5.80" height="76.96" fill="#fff" stroke="#000" stroke-width="1.0"/>
<line x1="155.60" y1="269.10" x2="155.60" y2="271.50" stroke="#000" stroke-width="1.0"/>
<text x="155.60" y="279.80" font-size="7.7" font-weight="bold" text-anchor="middle">#14</text>
<rect x="166.70" y="264.53" width="5.60" height="4.57" fill="#000" stroke="#000" stroke-width="1.0"/>
<line x1="175.20" y1="186.55" x2="175.20" y2="193.41" stroke="#000" stroke-width="1.0"/>
<line x1="173.40" y1="186.55" x2="177.00" y2="186.55" stroke="#000" stroke-width="1.0"/>
<rect x="172.30" y="193.41" width="5.80" height="75.69" fill="#fff" stroke="#000" stroke-width="1.0"/>
<line x1="172.30" y1="269.10" x2="172.30" y2="271.50" stroke="#000" stroke-width="1.0"/>
<text x="172.30" y="279.80" font-size="7.7" font-weight="bold" text-anchor="middle">#17</text>
<text x="105.60" y="292.20" font-size="8.5" font-weight="bold" text-anchor="middle">Donors</text>
<rect x="54.60" y="168.30" width="15.60" height="6.00" fill="#000" stroke="#000" stroke-width="1.0"/>
<rect x="54.60" y="179.90" width="15.60" height="5.40" fill="#fff" stroke="#000" stroke-width="1.0"/>
<text x="71.90" y="174.60" font-size="8.5">V&#946;2</text>
<text x="72.00" y="185.40" font-size="8.5">iNKT</text>
<text x="13.30" y="217.90" font-size="8.65" font-style="italic" text-anchor="middle" transform="rotate(-90 13.30 217.90)" style="stroke-width:0.12px">FAS-induced apoptosis (%)</text>
<text x="299.70" y="156.50" font-size="13.6" font-weight="bold">G</text>
<line x1="326.20" y1="166.50" x2="326.20" y2="270.90" stroke="#000" stroke-width="1.0"/>
<line x1="323.70" y1="270.40" x2="326.20" y2="270.40" stroke="#000" stroke-width="1.0"/>
<text x="322.60" y="273.30" font-size="7.7" font-weight="bold" text-anchor="end">0</text>
<line x1="323.70" y1="244.55" x2="326.20" y2="244.55" stroke="#000" stroke-width="1.0"/>
<text x="322.60" y="247.45" font-size="7.7" font-weight="bold" text-anchor="end">10</text>
<line x1="323.70" y1="218.70" x2="326.20" y2="218.70" stroke="#000" stroke-width="1.0"/>
<text x="322.60" y="221.60" font-size="7.7" font-weight="bold" text-anchor="end">20</text>
<line x1="323.70" y1="192.85" x2="326.20" y2="192.85" stroke="#000" stroke-width="1.0"/>
<text x="322.60" y="195.75" font-size="7.7" font-weight="bold" text-anchor="end">30</text>
<line x1="323.70" y1="167.00" x2="326.20" y2="167.00" stroke="#000" stroke-width="1.0"/>
<text x="322.60" y="169.90" font-size="7.7" font-weight="bold" text-anchor="end">40</text>
<line x1="326.20" y1="270.40" x2="429.80" y2="270.40" stroke="#000" stroke-width="1.0"/>
<line x1="326.20" y1="270.40" x2="326.20" y2="272.80" stroke="#000" stroke-width="1.0"/>
<text x="326.20" y="281.40" font-size="7.7" font-weight="bold" text-anchor="middle">0</text>
<line x1="352.10" y1="270.40" x2="352.10" y2="272.80" stroke="#000" stroke-width="1.0"/>
<text x="352.10" y="281.40" font-size="7.7" font-weight="bold" text-anchor="middle">25</text>
<line x1="378.00" y1="270.40" x2="378.00" y2="272.80" stroke="#000" stroke-width="1.0"/>
<text x="378.00" y="281.40" font-size="7.7" font-weight="bold" text-anchor="middle">50</text>
<line x1="403.90" y1="270.40" x2="403.90" y2="272.80" stroke="#000" stroke-width="1.0"/>
<text x="403.90" y="281.40" font-size="7.7" font-weight="bold" text-anchor="middle">75</text>
<line x1="429.80" y1="270.40" x2="429.80" y2="272.80" stroke="#000" stroke-width="1.0"/>
<text x="429.80" y="281.40" font-size="7.7" font-weight="bold" text-anchor="middle">100</text>
<text x="377.40" y="293.40" font-size="8.5" font-weight="bold" text-anchor="middle">APO1.3 (ng/ml)</text>
<text x="309.80" y="217.80" font-size="8.65" font-style="italic" text-anchor="middle" transform="rotate(-90 309.80 217.80)" style="stroke-width:0.12px">FAS-induced apoptosis (%)</text>
<polyline points="352.10,207.58 378.00,194.66 429.80,183.80" fill="none" stroke="#000" stroke-width="1.35"/>
<line x1="429.80" y1="167.78" x2="429.80" y2="199.83" stroke="#000" stroke-width="1.0"/>
<line x1="426.50" y1="167.78" x2="433.10" y2="167.78" stroke="#000" stroke-width="1.0"/>
<line x1="426.50" y1="199.83" x2="433.10" y2="199.83" stroke="#000" stroke-width="1.0"/>
<polyline points="352.10,259.80 378.00,237.31 429.80,232.14" fill="none" stroke="#000" stroke-width="1.35"/>
<line x1="378.00" y1="232.40" x2="378.00" y2="242.22" stroke="#000" stroke-width="1.0"/>
<line x1="374.70" y1="232.40" x2="381.30" y2="232.40" stroke="#000" stroke-width="1.0"/>
<line x1="374.70" y1="242.22" x2="381.30" y2="242.22" stroke="#000" stroke-width="1.0"/>
<polyline points="352.10,263.42 378.00,260.06 429.80,249.72" fill="none" stroke="#000" stroke-width="1.35"/>
<line x1="378.00" y1="255.92" x2="378.00" y2="264.20" stroke="#000" stroke-width="1.0"/>
<line x1="374.70" y1="255.92" x2="381.30" y2="255.92" stroke="#000" stroke-width="1.0"/>
<line x1="374.70" y1="264.20" x2="381.30" y2="264.20" stroke="#000" stroke-width="1.0"/>
<polyline points="352.10,268.33 378.00,267.81 429.80,265.23" fill="none" stroke="#000" stroke-width="1.35"/>
<polygon points="352.10,265.07 355.24,270.96 348.96,270.96" fill="#000" stroke="#000" stroke-width="1.0"/>
<polygon points="378.00,264.55 381.14,270.44 374.86,270.44" fill="#000" stroke="#000" stroke-width="1.0"/>
<polygon points="429.80,261.97 432.94,267.85 426.66,267.85" fill="#000" stroke="#000" stroke-width="1.0"/>
<polygon points="352.10,260.16 355.24,266.04 348.96,266.04" fill="#fff" stroke="#000" stroke-width="1.0"/>
<polygon points="378.00,256.80 381.14,262.68 374.86,262.68" fill="#fff" stroke="#000" stroke-width="1.0"/>
<polygon points="429.80,246.46 432.94,252.34 426.66,252.34" fill="#fff" stroke="#000" stroke-width="1.0"/>
<circle cx="352.10" cy="259.80" r="2.9" fill="#000" stroke="#000" stroke-width="1.0"/>
<circle cx="378.00" cy="237.31" r="2.9" fill="#000" stroke="#000" stroke-width="1.0"/>
<circle cx="429.80" cy="232.14" r="2.9" fill="#000" stroke="#000" stroke-width="1.0"/>
<circle cx="352.10" cy="207.58" r="2.9" fill="#fff" stroke="#000" stroke-width="1.0"/>
<circle cx="378.00" cy="194.66" r="2.9" fill="#fff" stroke="#000" stroke-width="1.0"/>
<circle cx="429.80" cy="183.80" r="2.9" fill="#fff" stroke="#000" stroke-width="1.0"/>
<line x1="446.60" y1="174.80" x2="460.90" y2="174.80" stroke="#000" stroke-width="1.35"/>
<circle cx="453.80" cy="174.80" r="2.7" fill="#000" stroke="#000" stroke-width="1.0"/>
<text x="462.30" y="178.00" font-size="8.5">V&#946;2</text>
<line x1="446.60" y1="186.70" x2="460.90" y2="186.70" stroke="#000" stroke-width="1.35"/>
<circle cx="453.80" cy="186.70" r="2.7" fill="#fff" stroke="#000" stroke-width="1.0"/>
<text x="462.30" y="189.90" font-size="8.5">iNKT</text>
<line x1="446.60" y1="199.20" x2="460.90" y2="199.20" stroke="#000" stroke-width="1.35"/>
<polygon points="453.80,195.94 456.94,201.82 450.66,201.82" fill="#000" stroke="#000" stroke-width="1.0"/>
<text x="462.30" y="202.40" font-size="8.5">V&#946;2 +z-VAD</text>
<line x1="446.60" y1="211.80" x2="460.90" y2="211.80" stroke="#000" stroke-width="1.35"/>
<polygon points="453.80,208.54 456.94,214.42 450.66,214.42" fill="#fff" stroke="#000" stroke-width="1.0"/>
<text x="462.30" y="215.00" font-size="8.5">iNKT+z-VAD</text>
<text x="1.30" y="313.50" font-size="13.6" font-weight="bold">H</text>
<line x1="30.90" y1="319.00" x2="30.90" y2="422.80" stroke="#000" stroke-width="1.0"/>
<line x1="28.40" y1="422.30" x2="30.90" y2="422.30" stroke="#000" stroke-width="1.0"/>
<text x="27.30" y="425.20" font-size="7.7" font-weight="bold" text-anchor="end">0</text>
<line x1="28.40" y1="396.60" x2="30.90" y2="396.60" stroke="#000" stroke-width="1.0"/>
<text x="27.30" y="399.50" font-size="7.7" font-weight="bold" text-anchor="end">10</text>
<line x1="28.40" y1="370.90" x2="30.90" y2="370.90" stroke="#000" stroke-width="1.0"/>
<text x="27.30" y="373.80" font-size="7.7" font-weight="bold" text-anchor="end">20</text>
<line x1="28.40" y1="345.20" x2="30.90" y2="345.20" stroke="#000" stroke-width="1.0"/>
<text x="27.30" y="348.10" font-size="7.7" font-weight="bold" text-anchor="end">30</text>
<line x1="28.40" y1="319.50" x2="30.90" y2="319.50" stroke="#000" stroke-width="1.0"/>
<text x="27.30" y="322.40" font-size="7.7" font-weight="bold" text-anchor="end">40</text>
<line x1="30.90" y1="422.30" x2="143.90" y2="422.30" stroke="#000" stroke-width="1.0"/>
<line x1="60.31" y1="422.30" x2="60.31" y2="424.30" stroke="#000" stroke-width="0.9"/>
<line x1="68.97" y1="422.30" x2="68.97" y2="424.30" stroke="#000" stroke-width="0.9"/>
<line x1="75.12" y1="422.30" x2="75.12" y2="424.30" stroke="#000" stroke-width="0.9"/>
<line x1="79.89" y1="422.30" x2="79.89" y2="424.30" stroke="#000" stroke-width="0.9"/>
<line x1="83.79" y1="422.30" x2="83.79" y2="424.30" stroke="#000" stroke-width="0.9"/>
<line x1="87.08" y1="422.30" x2="87.08" y2="424.30" stroke="#000" stroke-width="0.9"/>
<line x1="89.93" y1="422.30" x2="89.93" y2="424.30" stroke="#000" stroke-width="0.9"/>
<line x1="92.45" y1="422.30" x2="92.45" y2="424.30" stroke="#000" stroke-width="0.9"/>
<line x1="109.51" y1="422.30" x2="109.51" y2="424.30" stroke="#000" stroke-width="0.9"/>
<line x1="118.17" y1="422.30" x2="118.17" y2="424.30" stroke="#000" stroke-width="0.9"/>
<line x1="124.32" y1="422.30" x2="124.32" y2="424.30" stroke="#000" stroke-width="0.9"/>
<line x1="129.09" y1="422.30" x2="129.09" y2="424.30" stroke="#000" stroke-width="0.9"/>
<line x1="132.99" y1="422.30" x2="132.99" y2="424.30" stroke="#000" stroke-width="0.9"/>
<line x1="136.28" y1="422.30" x2="136.28" y2="424.30" stroke="#000" stroke-width="0.9"/>
<line x1="139.13" y1="422.30" x2="139.13" y2="424.30" stroke="#000" stroke-width="0.9"/>
<line x1="141.65" y1="422.30" x2="141.65" y2="424.30" stroke="#000" stroke-width="0.9"/>
<line x1="45.50" y1="422.30" x2="45.50" y2="424.80" stroke="#000" stroke-width="1.0"/>
<text x="45.50" y="433.60" font-size="7.7" font-weight="bold" text-anchor="middle">1</text>
<line x1="94.70" y1="422.30" x2="94.70" y2="424.80" stroke="#000" stroke-width="1.0"/>
<text x="94.70" y="433.60" font-size="7.7" font-weight="bold" text-anchor="middle">10</text>
<line x1="143.90" y1="422.30" x2="143.90" y2="424.80" stroke="#000" stroke-width="1.0"/>
<text x="143.90" y="433.60" font-size="7.7" font-weight="bold" text-anchor="middle">100</text>
<text x="86.80" y="445.00" font-size="8.5" font-weight="bold" text-anchor="middle">Etoposide (&#181;g/ml)</text>
<text x="13.20" y="370.50" font-size="8.8" font-style="italic" text-anchor="middle" transform="rotate(-90 13.20 370.50)" style="stroke-width:0.12px">Induced-apoptosis (%)</text>
<polyline points="45.50,393.00 79.89,391.46 94.70,382.21 129.09,322.58 143.90,327.98" fill="none" stroke="#000" stroke-width="1.35"/>
<polyline points="45.50,418.70 79.89,415.10 94.70,399.94 129.09,396.60 143.90,365.76" fill="none" stroke="#000" stroke-width="1.35"/>
<circle cx="45.50" cy="418.70" r="2.7" fill="#000" stroke="#000" stroke-width="1.0"/>
<circle cx="79.89" cy="415.10" r="2.7" fill="#000" stroke="#000" stroke-width="1.0"/>
<circle cx="94.70" cy="399.94" r="2.7" fill="#000" stroke="#000" stroke-width="1.0"/>
<circle cx="129.09" cy="396.60" r="2.7" fill="#000" stroke="#000" stroke-width="1.0"/>
<circle cx="143.90" cy="365.76" r="2.7" fill="#000" stroke="#000" stroke-width="1.0"/>
<circle cx="45.50" cy="393.00" r="2.7" fill="#fff" stroke="#000" stroke-width="1.0"/>
<circle cx="79.89" cy="391.46" r="2.7" fill="#fff" stroke="#000" stroke-width="1.0"/>
<circle cx="94.70" cy="382.21" r="2.7" fill="#fff" stroke="#000" stroke-width="1.0"/>
<circle cx="129.09" cy="322.58" r="2.7" fill="#fff" stroke="#000" stroke-width="1.0"/>
<circle cx="143.90" cy="327.98" r="2.7" fill="#fff" stroke="#000" stroke-width="1.0"/>
<polygon points="143.90,384.29 146.84,389.81 140.96,389.81" fill="#fff" stroke="#000" stroke-width="1.0"/>
<polygon points="143.90,392.25 146.84,397.77 140.96,397.77" fill="#000" stroke="#000" stroke-width="1.0"/>
<line x1="38.70" y1="320.70" x2="52.90" y2="320.70" stroke="#000" stroke-width="1.35"/>
<circle cx="46.00" cy="320.70" r="3.0" fill="#000" stroke="#000" stroke-width="1.0"/>
<text x="56.00" y="323.90" font-size="8.5">V&#946;2</text>
<line x1="38.70" y1="332.50" x2="52.90" y2="332.50" stroke="#000" stroke-width="1.35"/>
<circle cx="46.00" cy="332.50" r="3.0" fill="#fff" stroke="#000" stroke-width="1.0"/>
<text x="56.00" y="335.70" font-size="8.5">iNKT</text>
<line x1="38.70" y1="345.50" x2="52.90" y2="345.50" stroke="#000" stroke-width="1.35"/>
<polygon points="46.00,342.03 49.33,348.29 42.67,348.29" fill="#000" stroke="#000" stroke-width="1.0"/>
<text x="56.00" y="348.70" font-size="8.5">V&#946;2+z-VAD</text>
<line x1="38.70" y1="356.40" x2="52.90" y2="356.40" stroke="#000" stroke-width="1.35"/>
<polygon points="46.00,352.93 49.33,359.19 42.67,359.19" fill="#fff" stroke="#000" stroke-width="1.0"/>
<text x="56.00" y="359.60" font-size="8.5">iNKT+z-VAD</text>
<text x="178.00" y="313.60" font-size="13.6" font-weight="bold">I</text>
<line x1="202.10" y1="318.22" x2="202.10" y2="422.00" stroke="#000" stroke-width="1.0"/>
<line x1="199.60" y1="421.50" x2="202.10" y2="421.50" stroke="#000" stroke-width="1.0"/>
<text x="198.50" y="424.40" font-size="7.7" font-weight="bold" text-anchor="end">0</text>
<line x1="199.60" y1="404.37" x2="202.10" y2="404.37" stroke="#000" stroke-width="1.0"/>
<text x="198.50" y="407.27" font-size="7.7" font-weight="bold" text-anchor="end">10</text>
<line x1="199.60" y1="387.24" x2="202.10" y2="387.24" stroke="#000" stroke-width="1.0"/>
<text x="198.50" y="390.14" font-size="7.7" font-weight="bold" text-anchor="end">20</text>
<line x1="199.60" y1="370.11" x2="202.10" y2="370.11" stroke="#000" stroke-width="1.0"/>
<text x="198.50" y="373.01" font-size="7.7" font-weight="bold" text-anchor="end">30</text>
<line x1="199.60" y1="352.98" x2="202.10" y2="352.98" stroke="#000" stroke-width="1.0"/>
<text x="198.50" y="355.88" font-size="7.7" font-weight="bold" text-anchor="end">40</text>
<line x1="199.60" y1="335.85" x2="202.10" y2="335.85" stroke="#000" stroke-width="1.0"/>
<text x="198.50" y="338.75" font-size="7.7" font-weight="bold" text-anchor="end">50</text>
<line x1="199.60" y1="318.72" x2="202.10" y2="318.72" stroke="#000" stroke-width="1.0"/>
<text x="198.50" y="321.62" font-size="7.7" font-weight="bold" text-anchor="end">60</text>
<line x1="202.10" y1="421.50" x2="262.00" y2="421.50" stroke="#000" stroke-width="1.0"/>
<line x1="202.10" y1="421.50" x2="202.10" y2="423.70" stroke="#000" stroke-width="1.0"/>
<text x="202.10" y="432.60" font-size="7.7" font-weight="bold" text-anchor="middle">0</text>
<line x1="214.08" y1="421.50" x2="214.08" y2="423.70" stroke="#000" stroke-width="1.0"/>
<text x="214.08" y="432.60" font-size="7.7" font-weight="bold" text-anchor="middle">1</text>
<line x1="226.06" y1="421.50" x2="226.06" y2="423.70" stroke="#000" stroke-width="1.0"/>
<text x="226.06" y="432.60" font-size="7.7" font-weight="bold" text-anchor="middle">2</text>
<line x1="238.04" y1="421.50" x2="238.04" y2="423.70" stroke="#000" stroke-width="1.0"/>
<text x="238.04" y="432.60" font-size="7.7" font-weight="bold" text-anchor="middle">3</text>
<line x1="250.02" y1="421.50" x2="250.02" y2="423.70" stroke="#000" stroke-width="1.0"/>
<text x="250.02" y="432.60" font-size="7.7" font-weight="bold" text-anchor="middle">4</text>
<line x1="262.00" y1="421.50" x2="262.00" y2="423.70" stroke="#000" stroke-width="1.0"/>
<text x="262.00" y="432.60" font-size="7.7" font-weight="bold" text-anchor="middle">5</text>
<text x="231.80" y="444.00" font-size="8.5" font-weight="bold" text-anchor="middle">Puromycine (&#181;g/ml)</text>
<text x="184.40" y="370.90" font-size="8.6" font-style="italic" text-anchor="middle" transform="rotate(-90 184.40 370.90)" style="stroke-width:0.12px">induced-apoptosis (%)</text>
<polyline points="217.07,396.49 232.05,376.11 262.00,343.56" fill="none" stroke="#000" stroke-width="1.35"/>
<line x1="217.07" y1="391.35" x2="217.07" y2="401.63" stroke="#000" stroke-width="1.0"/>
<line x1="213.57" y1="391.35" x2="220.57" y2="391.35" stroke="#000" stroke-width="1.0"/>
<line x1="213.57" y1="401.63" x2="220.57" y2="401.63" stroke="#000" stroke-width="1.0"/>
<line x1="232.05" y1="370.97" x2="232.05" y2="381.24" stroke="#000" stroke-width="1.0"/>
<line x1="228.55" y1="370.97" x2="235.55" y2="370.97" stroke="#000" stroke-width="1.0"/>
<line x1="228.55" y1="381.24" x2="235.55" y2="381.24" stroke="#000" stroke-width="1.0"/>
<line x1="262.00" y1="334.99" x2="262.00" y2="352.12" stroke="#000" stroke-width="1.0"/>
<line x1="258.50" y1="334.99" x2="265.50" y2="334.99" stroke="#000" stroke-width="1.0"/>
<line x1="258.50" y1="352.12" x2="265.50" y2="352.12" stroke="#000" stroke-width="1.0"/>
<polyline points="217.07,411.39 232.05,399.57 262.00,385.53" fill="none" stroke="#000" stroke-width="1.35"/>
<line x1="217.07" y1="407.97" x2="217.07" y2="414.82" stroke="#000" stroke-width="1.0"/>
<line x1="213.57" y1="407.97" x2="220.57" y2="407.97" stroke="#000" stroke-width="1.0"/>
<line x1="213.57" y1="414.82" x2="220.57" y2="414.82" stroke="#000" stroke-width="1.0"/>
<line x1="232.05" y1="393.58" x2="232.05" y2="405.57" stroke="#000" stroke-width="1.0"/>
<line x1="228.55" y1="393.58" x2="235.55" y2="393.58" stroke="#000" stroke-width="1.0"/>
<line x1="228.55" y1="405.57" x2="235.55" y2="405.57" stroke="#000" stroke-width="1.0"/>
<line x1="262.00" y1="375.25" x2="262.00" y2="395.81" stroke="#000" stroke-width="1.0"/>
<line x1="258.50" y1="375.25" x2="265.50" y2="375.25" stroke="#000" stroke-width="1.0"/>
<line x1="258.50" y1="395.81" x2="265.50" y2="395.81" stroke="#000" stroke-width="1.0"/>
<circle cx="217.07" cy="411.39" r="3.0" fill="#000" stroke="#000" stroke-width="1.0"/>
<circle cx="232.05" cy="399.57" r="3.0" fill="#000" stroke="#000" stroke-width="1.0"/>
<circle cx="262.00" cy="385.53" r="3.0" fill="#000" stroke="#000" stroke-width="1.0"/>
<circle cx="217.07" cy="396.49" r="3.0" fill="#fff" stroke="#000" stroke-width="1.0"/>
<circle cx="232.05" cy="376.11" r="3.0" fill="#fff" stroke="#000" stroke-width="1.0"/>
<circle cx="262.00" cy="343.56" r="3.0" fill="#fff" stroke="#000" stroke-width="1.0"/>
<line x1="210.30" y1="321.60" x2="224.70" y2="321.60" stroke="#000" stroke-width="1.35"/>
<circle cx="217.50" cy="321.60" r="3.0" fill="#000" stroke="#000" stroke-width="1.0"/>
<line x1="210.30" y1="334.30" x2="224.70" y2="334.30" stroke="#000" stroke-width="1.35"/>
<circle cx="217.50" cy="334.30" r="2.9" fill="#fff" stroke="#000" stroke-width="1.0"/>
<text x="227.10" y="324.90" font-size="8.5">V&#946;2</text>
<text x="227.40" y="336.00" font-size="8.5">iNKT</text>
<text x="302.60" y="313.30" font-size="13.6" font-weight="bold">J</text>
<line x1="324.80" y1="319.80" x2="324.80" y2="422.30" stroke="#000" stroke-width="1.0"/>
<line x1="322.30" y1="421.80" x2="324.80" y2="421.80" stroke="#000" stroke-width="1.0"/>
<text x="321.20" y="424.70" font-size="7.7" font-weight="bold" text-anchor="end">0</text>
<line x1="322.30" y1="407.30" x2="324.80" y2="407.30" stroke="#000" stroke-width="1.0"/>
<text x="321.20" y="410.20" font-size="7.7" font-weight="bold" text-anchor="end">5</text>
<line x1="322.30" y1="392.80" x2="324.80" y2="392.80" stroke="#000" stroke-width="1.0"/>
<text x="321.20" y="395.70" font-size="7.7" font-weight="bold" text-anchor="end">10</text>
<line x1="322.30" y1="378.30" x2="324.80" y2="378.30" stroke="#000" stroke-width="1.0"/>
<text x="321.20" y="381.20" font-size="7.7" font-weight="bold" text-anchor="end">15</text>
<line x1="322.30" y1="363.80" x2="324.80" y2="363.80" stroke="#000" stroke-width="1.0"/>
<text x="321.20" y="366.70" font-size="7.7" font-weight="bold" text-anchor="end">20</text>
<line x1="322.30" y1="349.30" x2="324.80" y2="349.30" stroke="#000" stroke-width="1.0"/>
<text x="321.20" y="352.20" font-size="7.7" font-weight="bold" text-anchor="end">25</text>
<line x1="322.30" y1="334.80" x2="324.80" y2="334.80" stroke="#000" stroke-width="1.0"/>
<text x="321.20" y="337.70" font-size="7.7" font-weight="bold" text-anchor="end">30</text>
<line x1="322.30" y1="320.30" x2="324.80" y2="320.30" stroke="#000" stroke-width="1.0"/>
<text x="321.20" y="323.20" font-size="7.7" font-weight="bold" text-anchor="end">35</text>
<line x1="324.80" y1="421.80" x2="386.20" y2="421.80" stroke="#000" stroke-width="1.0"/>
<line x1="324.80" y1="421.80" x2="324.80" y2="424.00" stroke="#000" stroke-width="1.0"/>
<text x="326.40" y="431.40" font-size="7.8" font-weight="bold" text-anchor="end" transform="rotate(-45 326.40 431.40)">0</text>
<line x1="337.08" y1="421.80" x2="337.08" y2="424.00" stroke="#000" stroke-width="1.0"/>
<text x="338.68" y="431.40" font-size="7.8" font-weight="bold" text-anchor="end" transform="rotate(-45 338.68 431.40)">50</text>
<line x1="349.36" y1="421.80" x2="349.36" y2="424.00" stroke="#000" stroke-width="1.0"/>
<text x="350.96" y="431.40" font-size="7.8" font-weight="bold" text-anchor="end" transform="rotate(-45 350.96 431.40)">100</text>
<line x1="361.64" y1="421.80" x2="361.64" y2="424.00" stroke="#000" stroke-width="1.0"/>
<text x="363.24" y="431.40" font-size="7.8" font-weight="bold" text-anchor="end" transform="rotate(-45 363.24 431.40)">150</text>
<line x1="373.92" y1="421.80" x2="373.92" y2="424.00" stroke="#000" stroke-width="1.0"/>
<text x="375.52" y="431.40" font-size="7.8" font-weight="bold" text-anchor="end" transform="rotate(-45 375.52 431.40)">200</text>
<line x1="386.20" y1="421.80" x2="386.20" y2="424.00" stroke="#000" stroke-width="1.0"/>
<text x="387.80" y="431.40" font-size="7.8" font-weight="bold" text-anchor="end" transform="rotate(-45 387.80 431.40)">250</text>
<text x="355.00" y="451.20" font-size="8.5" font-weight="bold" text-anchor="middle">H<tspan font-size="6" dy="1.8">2</tspan><tspan dy="-1.8">0</tspan><tspan font-size="6" dy="1.8">2</tspan><tspan dy="-1.8">(&#181;M)</tspan></text>
<text x="308.20" y="374.20" font-size="8.4" font-style="italic" text-anchor="middle" transform="rotate(-90 308.20 374.20)" style="stroke-width:0.12px">induced-apoptosis (%)</text>
<polyline points="340.15,400.63 355.50,365.25 386.20,352.20" fill="none" stroke="#000" stroke-width="1.35"/>
<line x1="355.50" y1="356.55" x2="355.50" y2="373.95" stroke="#000" stroke-width="1.0"/>
<line x1="352.00" y1="356.55" x2="359.00" y2="356.55" stroke="#000" stroke-width="1.0"/>
<line x1="352.00" y1="373.95" x2="359.00" y2="373.95" stroke="#000" stroke-width="1.0"/>
<line x1="386.20" y1="330.45" x2="386.20" y2="373.95" stroke="#000" stroke-width="1.0"/>
<line x1="382.70" y1="330.45" x2="389.70" y2="330.45" stroke="#000" stroke-width="1.0"/>
<line x1="382.70" y1="373.95" x2="389.70" y2="373.95" stroke="#000" stroke-width="1.0"/>
<polyline points="340.15,418.90 355.50,413.68 386.20,413.97" fill="none" stroke="#000" stroke-width="1.35"/>
<line x1="355.50" y1="409.33" x2="355.50" y2="418.03" stroke="#000" stroke-width="1.0"/>
<line x1="352.00" y1="409.33" x2="359.00" y2="409.33" stroke="#000" stroke-width="1.0"/>
<line x1="352.00" y1="418.03" x2="359.00" y2="418.03" stroke="#000" stroke-width="1.0"/>
<line x1="386.20" y1="409.62" x2="386.20" y2="418.32" stroke="#000" stroke-width="1.0"/>
<line x1="382.70" y1="409.62" x2="389.70" y2="409.62" stroke="#000" stroke-width="1.0"/>
<line x1="382.70" y1="418.32" x2="389.70" y2="418.32" stroke="#000" stroke-width="1.0"/>
<circle cx="340.15" cy="418.90" r="3.0" fill="#000" stroke="#000" stroke-width="1.0"/>
<circle cx="355.50" cy="413.68" r="3.0" fill="#000" stroke="#000" stroke-width="1.0"/>
<circle cx="386.20" cy="413.97" r="3.0" fill="#000" stroke="#000" stroke-width="1.0"/>
<circle cx="340.15" cy="400.63" r="3.0" fill="#fff" stroke="#000" stroke-width="1.0"/>
<circle cx="355.50" cy="365.25" r="3.0" fill="#fff" stroke="#000" stroke-width="1.0"/>
<circle cx="386.20" cy="352.20" r="3.0" fill="#fff" stroke="#000" stroke-width="1.0"/>
<line x1="332.80" y1="322.10" x2="347.70" y2="322.10" stroke="#000" stroke-width="1.35"/>
<circle cx="340.00" cy="322.10" r="3.0" fill="#000" stroke="#000" stroke-width="1.0"/>
<line x1="332.80" y1="334.90" x2="347.70" y2="334.90" stroke="#000" stroke-width="1.35"/>
<circle cx="340.00" cy="334.90" r="2.9" fill="#fff" stroke="#000" stroke-width="1.0"/>
<text x="349.60" y="325.40" font-size="8.5">V&#946;2</text>
<text x="349.80" y="338.20" font-size="8.5">iNKT</text>
<text x="422.30" y="313.30" font-size="13.6" font-weight="bold">K</text>
<line x1="447.40" y1="319.01" x2="447.40" y2="422.70" stroke="#000" stroke-width="1.0"/>
<line x1="444.90" y1="422.20" x2="447.40" y2="422.20" stroke="#000" stroke-width="1.0"/>
<text x="443.80" y="425.10" font-size="7.7" font-weight="bold" text-anchor="end">0</text>
<line x1="444.90" y1="407.53" x2="447.40" y2="407.53" stroke="#000" stroke-width="1.0"/>
<text x="443.80" y="410.43" font-size="7.7" font-weight="bold" text-anchor="end">10</text>
<line x1="444.90" y1="392.86" x2="447.40" y2="392.86" stroke="#000" stroke-width="1.0"/>
<text x="443.80" y="395.76" font-size="7.7" font-weight="bold" text-anchor="end">20</text>
<line x1="444.90" y1="378.19" x2="447.40" y2="378.19" stroke="#000" stroke-width="1.0"/>
<text x="443.80" y="381.09" font-size="7.7" font-weight="bold" text-anchor="end">30</text>
<line x1="444.90" y1="363.52" x2="447.40" y2="363.52" stroke="#000" stroke-width="1.0"/>
<text x="443.80" y="366.42" font-size="7.7" font-weight="bold" text-anchor="end">40</text>
<line x1="444.90" y1="348.85" x2="447.40" y2="348.85" stroke="#000" stroke-width="1.0"/>
<text x="443.80" y="351.75" font-size="7.7" font-weight="bold" text-anchor="end">50</text>
<line x1="444.90" y1="334.18" x2="447.40" y2="334.18" stroke="#000" stroke-width="1.0"/>
<text x="443.80" y="337.08" font-size="7.7" font-weight="bold" text-anchor="end">60</text>
<line x1="444.90" y1="319.51" x2="447.40" y2="319.51" stroke="#000" stroke-width="1.0"/>
<text x="443.80" y="322.41" font-size="7.7" font-weight="bold" text-anchor="end">70</text>
<line x1="447.40" y1="422.20" x2="507.80" y2="422.20" stroke="#000" stroke-width="1.0"/>
<line x1="447.40" y1="422.20" x2="447.40" y2="424.40" stroke="#000" stroke-width="1.0"/>
<text x="449.40" y="431.60" font-size="7.8" font-weight="bold" text-anchor="end" transform="rotate(-45 449.40 431.60)">0.00</text>
<line x1="462.50" y1="422.20" x2="462.50" y2="424.40" stroke="#000" stroke-width="1.0"/>
<text x="464.50" y="431.60" font-size="7.8" font-weight="bold" text-anchor="end" transform="rotate(-45 464.50 431.60)">0.25</text>
<line x1="477.60" y1="422.20" x2="477.60" y2="424.40" stroke="#000" stroke-width="1.0"/>
<text x="479.60" y="431.60" font-size="7.8" font-weight="bold" text-anchor="end" transform="rotate(-45 479.60 431.60)">0.50</text>
<line x1="492.70" y1="422.20" x2="492.70" y2="424.40" stroke="#000" stroke-width="1.0"/>
<text x="494.70" y="431.60" font-size="7.8" font-weight="bold" text-anchor="end" transform="rotate(-45 494.70 431.60)">0.75</text>
<line x1="507.80" y1="422.20" x2="507.80" y2="424.40" stroke="#000" stroke-width="1.0"/>
<text x="509.80" y="431.60" font-size="7.8" font-weight="bold" text-anchor="end" transform="rotate(-45 509.80 431.60)">1.00</text>
<text x="477.30" y="453.20" font-size="8.5" font-weight="bold" text-anchor="middle">Staurosporine (&#181;M)</text>
<text x="429.80" y="374.20" font-size="8.4" font-style="italic" text-anchor="middle" transform="rotate(-90 429.80 374.20)" style="stroke-width:0.12px">induced-apoptosis (%)</text>
<polyline points="462.50,401.66 477.60,352.52 507.80,333.45" fill="none" stroke="#000" stroke-width="1.35"/>
<line x1="477.60" y1="347.38" x2="477.60" y2="357.65" stroke="#000" stroke-width="1.0"/>
<line x1="474.10" y1="347.38" x2="481.10" y2="347.38" stroke="#000" stroke-width="1.0"/>
<line x1="474.10" y1="357.65" x2="481.10" y2="357.65" stroke="#000" stroke-width="1.0"/>
<line x1="507.80" y1="329.78" x2="507.80" y2="337.11" stroke="#000" stroke-width="1.0"/>
<line x1="504.30" y1="329.78" x2="511.30" y2="329.78" stroke="#000" stroke-width="1.0"/>
<line x1="504.30" y1="337.11" x2="511.30" y2="337.11" stroke="#000" stroke-width="1.0"/>
<polyline points="462.50,407.97 477.60,399.46 507.80,397.26" fill="none" stroke="#000" stroke-width="1.35"/>
<line x1="462.50" y1="404.89" x2="462.50" y2="411.05" stroke="#000" stroke-width="1.0"/>
<line x1="459.00" y1="404.89" x2="466.00" y2="404.89" stroke="#000" stroke-width="1.0"/>
<line x1="459.00" y1="411.05" x2="466.00" y2="411.05" stroke="#000" stroke-width="1.0"/>
<circle cx="462.50" cy="407.97" r="3.0" fill="#000" stroke="#000" stroke-width="1.0"/>
<circle cx="477.60" cy="399.46" r="3.0" fill="#000" stroke="#000" stroke-width="1.0"/>
<circle cx="507.80" cy="397.26" r="3.0" fill="#000" stroke="#000" stroke-width="1.0"/>
<circle cx="462.50" cy="401.66" r="3.0" fill="#fff" stroke="#000" stroke-width="1.0"/>
<circle cx="477.60" cy="352.52" r="3.0" fill="#fff" stroke="#000" stroke-width="1.0"/>
<circle cx="507.80" cy="333.45" r="3.0" fill="#fff" stroke="#000" stroke-width="1.0"/>
<line x1="454.30" y1="322.60" x2="468.80" y2="322.60" stroke="#000" stroke-width="1.35"/>
<circle cx="461.50" cy="322.60" r="3.0" fill="#000" stroke="#000" stroke-width="1.0"/>
<line x1="454.30" y1="335.10" x2="468.80" y2="335.10" stroke="#000" stroke-width="1.35"/>
<circle cx="461.50" cy="335.10" r="2.9" fill="#fff" stroke="#000" stroke-width="1.0"/>
<text x="471.00" y="325.90" font-size="8.5">V&#946;2</text>
<text x="471.20" y="338.40" font-size="8.5">iNKT</text>
</svg>
</body></html>
